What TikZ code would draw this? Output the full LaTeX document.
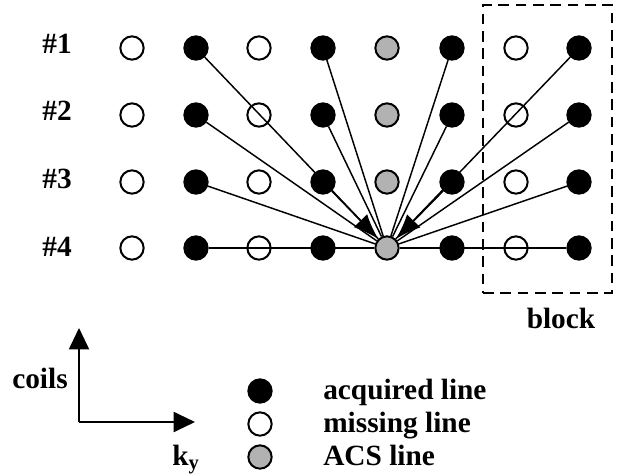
\documentclass[tikz,border=0pt]{standalone}
\usepackage{fontspec}
\setmainfont{Liberation Serif}
\usetikzlibrary{arrows.meta,backgrounds}

\begin{document}
\begin{tikzpicture}[x=0.75pt,y=-0.75pt,
  dot/.style={circle,draw=black,line width=1.5pt,inner sep=0pt,minimum size=17.5pt},
  acq/.style={dot,fill=black},
  miss/.style={dot},
  acs/.style={dot,fill=black!30},
  lbl/.style={font=\fontsize{22}{26}\selectfont\bfseries,inner sep=0pt},
  link/.style={line width=1.1pt},
  bigtip/.style={-{Latex[length=19pt,width=14pt]}},
  axis/.style={line width=1.5pt,-{Triangle[length=16pt,width=15pt]}}]
\useasboundingbox (0,0) rectangle (617,475);

% sampling grid: four coils, eight k-space lines each
\foreach \r/\y in {1/48,2/115,3/182,4/248}{
  \node[miss] (n\r1) at (132,\y) {};
  \node[acq]  (n\r2) at (196,\y) {};
  \node[miss] (n\r3) at (259,\y) {};
  \node[acq]  (n\r4) at (323,\y) {};
  \node[acs]  (n\r5) at (387,\y) {};
  \node[acq]  (n\r6) at (452,\y) {};
  \node[miss] (n\r7) at (516,\y) {};
  \node[acq]  (n\r8) at (579,\y) {};
}

% coil labels
\node[lbl,anchor=base] (c1) at (57,53)  {\#1};
\node[lbl,anchor=base] (c2) at (57,120) {\#2};
\node[lbl,anchor=base] (c3) at (57,188) {\#3};
\node[lbl,anchor=base] (c4) at (57,256) {\#4};

% fitting connections into the ACS point
\begin{scope}[on background layer]
  \foreach \r in {1,2,3}{
    \foreach \c in {2,8}{ \draw[link] (n\r\c) -- (n45); }
  }
  \foreach \r in {1,2}{
    \foreach \c in {4,6}{ \draw[link] (n\r\c) -- (n45); }
  }
  \draw[link,bigtip] (n34) -- (n45);
  \draw[link,bigtip] (n36) -- (n45);
  \draw[link] (n42) -- (n45);
  \draw[link] (n45) -- (n48);
\end{scope}

% block outline
\node[draw,line width=1.4pt,dash pattern=on 8pt off 5pt,inner sep=0pt,
      minimum width=96.75pt,minimum height=216pt] (blk) at (547.5,149) {};
\node[lbl,anchor=base] (blklbl) at (561,328) {block};

% axes
\coordinate (O) at (79,422);
\coordinate (ytip) at (79,328);
\coordinate (xtip) at (195,422);
\draw[axis] (O) -- (ytip);
\draw[axis] (O) -- (xtip);
\node[lbl,anchor=base] (coils) at (40,388) {coils};
\node[lbl,anchor=base west] (ky) at (172,465) {k\textsubscript{y}};

% legend
\node[acq]  (la) at (260,391) {};
\node[miss] (lm) at (260,424) {};
\node[acs]  (ls) at (260,457) {};
\node[lbl,anchor=base west] (ta) at (323,399) {acquired line};
\node[lbl,anchor=base west] (tm) at (323,432) {missing line};
\node[lbl,anchor=base west] (ts) at (323,465) {ACS line};
\end{tikzpicture}
\end{document}
